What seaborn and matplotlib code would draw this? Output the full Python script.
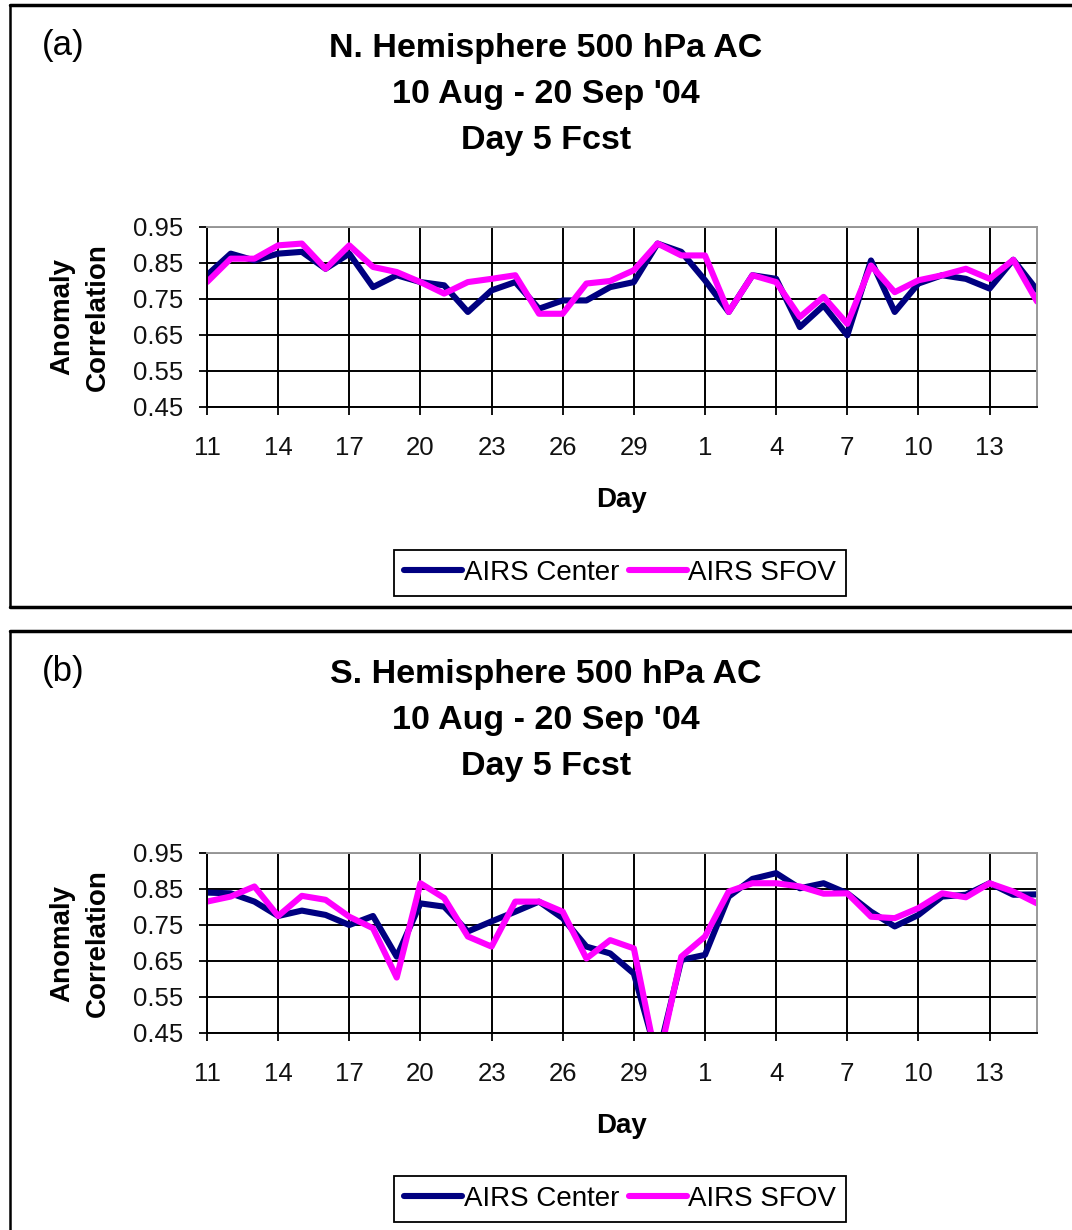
import matplotlib
matplotlib.use("Agg")
import matplotlib.pyplot as plt
from matplotlib.lines import Line2D
import seaborn as sns
import pandas as pd

# day of month, 11 Aug .. 15 Sep 2004
days = list(range(11, 32)) + list(range(1, 16))
tick_days = days[::3]

# N. Hemisphere 500 hPa anomaly correlation, day 5 forecast
nh_center = [0.816, 0.876, 0.857, 0.876, 0.881, 0.834, 0.876, 0.783, 0.816, 0.797,
             0.788, 0.714, 0.774, 0.797, 0.723, 0.746, 0.746, 0.783, 0.797, 0.904,
             0.881, 0.802, 0.714, 0.816, 0.806, 0.672, 0.732, 0.649, 0.857, 0.714,
             0.793, 0.816, 0.806, 0.779, 0.859, 0.775]
nh_sfov = [0.797, 0.862, 0.862, 0.899, 0.904, 0.834, 0.899, 0.839, 0.825, 0.797,
           0.765, 0.797, 0.806, 0.816, 0.709, 0.709, 0.793, 0.800, 0.830, 0.904,
           0.871, 0.871, 0.714, 0.816, 0.797, 0.700, 0.756, 0.681, 0.843, 0.769,
           0.802, 0.816, 0.834, 0.806, 0.859, 0.743]

# S. Hemisphere
sh_center = [0.840, 0.838, 0.815, 0.775, 0.790, 0.778, 0.750, 0.775, 0.662, 0.810,
             0.801, 0.732, 0.760, 0.787, 0.815, 0.769, 0.690, 0.671, 0.615, 0.380,
             0.653, 0.667, 0.829, 0.878, 0.894, 0.852, 0.866, 0.838, 0.787, 0.746,
             0.778, 0.829, 0.834, 0.866, 0.834, 0.835]
sh_sfov = [0.815, 0.829, 0.857, 0.775, 0.831, 0.820, 0.773, 0.741, 0.604, 0.866,
           0.825, 0.718, 0.690, 0.815, 0.815, 0.787, 0.657, 0.708, 0.685, 0.360,
           0.662, 0.718, 0.843, 0.866, 0.866, 0.857, 0.837, 0.838, 0.773, 0.769,
           0.797, 0.838, 0.827, 0.866, 0.843, 0.810]

series_names = ["AIRS Center", "AIRS SFOV"]
colors = {"AIRS Center": "#000080", "AIRS SFOV": "#FF00FF"}
yticks = [0.45, 0.55, 0.65, 0.75, 0.85, 0.95]

sns.set_theme(style="white")
plt.rcParams['font.family'] = ['Liberation Sans', 'DejaVu Sans']
plt.rcParams['text.color'] = 'black'
plt.rcParams['axes.labelcolor'] = 'black'

W, H = 1072, 1230
fig = plt.figure(figsize=(W / 100, H / 100), dpi=100)


def fx(px):
    return px / W


def fy(py):
    return 1 - py / H


def make_panel(offset, letter, region, center, sfov, has_bottom):
    # outer frame of the panel
    top = 5 + offset
    fig.add_artist(Line2D([fx(10), fx(W)], [fy(top), fy(top)], color='black', lw=2.5))
    bot = 607 if has_bottom else H
    fig.add_artist(Line2D([fx(10), fx(10)], [fy(top), fy(bot)], color='black', lw=1.8))
    if has_bottom:
        fig.add_artist(Line2D([fx(10), fx(W)], [fy(bot), fy(bot)], color='black', lw=2.5))

    fig.text(fx(63), fy(46 + offset), letter, ha='center', va='center', fontsize=25)
    titles = [f"{region} Hemisphere 500 hPa AC", "10 Aug - 20 Sep '04", "Day 5 Fcst"]
    for k, t in enumerate(titles):
        fig.text(fx(546), fy(48 + offset + 46.5 * k), t, ha='center', va='center',
                 fontsize=24.5, fontweight='bold')

    ax = fig.add_axes([fx(207), fy(407 + offset), fx(1037 - 207), (407 - 227) / H])
    df = pd.DataFrame({
        "idx": list(range(len(days))) * 2,
        "value": center + sfov,
        "series": [series_names[0]] * len(days) + [series_names[1]] * len(days),
    })
    sns.lineplot(data=df, x="idx", y="value", hue="series", hue_order=series_names,
                 palette=colors, lw=4.4, sort=False, ax=ax)

    ax.set_xlim(0, len(days) - 1)
    ax.set_ylim(0.45, 0.95)
    ax.set_yticks(yticks)
    ax.set_yticklabels([f"{v:.2f}" for v in yticks])
    ax.set_xticks(range(0, len(days), 3))
    ax.set_xticklabels([str(d) for d in tick_days])
    ax.grid(True, color='black', lw=1.4)
    ax.set_axisbelow(True)
    for s in ['top', 'right']:
        ax.spines[s].set_color('#999999')
        ax.spines[s].set_linewidth(1.4)
    for s in ['left', 'bottom']:
        ax.spines[s].set_color('black')
        ax.spines[s].set_linewidth(1.4)
    ax.tick_params(axis='y', direction='out', length=6, width=1.3, color='black',
                   pad=11, labelsize=18.5, labelcolor='#111111', left=True)
    ax.tick_params(axis='x', direction='out', length=6, width=1.3, color='black',
                   pad=15, labelsize=18.5, labelcolor='#111111', bottom=True)
    ax.set_xlabel("Day", fontsize=20, fontweight='bold', labelpad=19)
    ax.set_ylabel("Anomaly\nCorrelation", fontsize=20, fontweight='bold',
                  labelpad=16, linespacing=1.5)

    handles, labels = ax.get_legend_handles_labels()
    ax.get_legend().remove()
    leg = ax.legend(handles, labels, loc='center', ncol=2,
                    bbox_to_anchor=(fx(620), fy(573 + offset)), bbox_transform=fig.transFigure,
                    fontsize=20, frameon=True, fancybox=False, edgecolor='black',
                    framealpha=1, handlelength=2.1, handletextpad=0.05,
                    columnspacing=0.35, borderpad=0.35, borderaxespad=0)
    leg.get_frame().set_linewidth(1.3)
    return ax


make_panel(0, "(a)", "N.", nh_center, nh_sfov, True)
make_panel(626, "(b)", "S.", sh_center, sh_sfov, False)

fig.savefig("out.png", dpi=100)
